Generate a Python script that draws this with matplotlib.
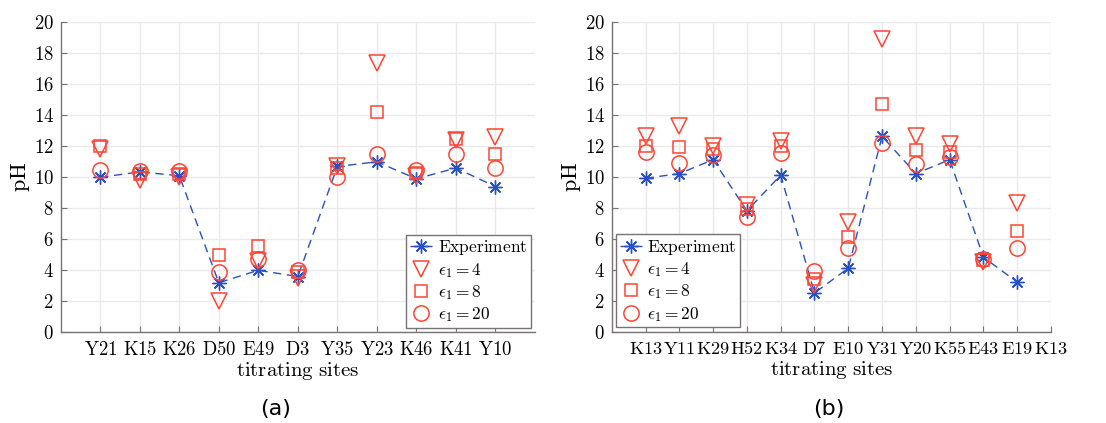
import matplotlib
matplotlib.use('Agg')
import matplotlib.pyplot as plt

plt.rcParams['mathtext.fontset'] = 'cm'
plt.rcParams['font.family'] = 'DejaVu Serif'

# panel (a)
sites_a = ['Y21', 'K15', 'K26', 'D50', 'E49', 'D3', 'Y35', 'Y23', 'K46', 'K41', 'Y10']
exp_a = [10.0, 10.35, 10.1, 3.2, 4.0, 3.6, 10.7, 11.0, 9.9, 10.6, 9.4]
eps4_a = [11.8, 9.8, 10.0, 2.0, 4.6, 3.5, 10.7, 17.4, 10.1, 12.4, 12.6]
eps8_a = [12.0, 10.2, 10.2, 5.0, 5.6, 3.9, 10.6, 14.2, 10.3, 12.5, 11.5]
eps20_a = [10.5, 10.4, 10.4, 3.9, 4.7, 4.0, 10.0, 11.5, 10.5, 11.5, 10.6]

# panel (b)
sites_b = ['K13', 'Y11', 'K29', 'H52', 'K34', 'D7', 'E10', 'Y31', 'Y20', 'K55', 'E43', 'E19', 'K13']
exp_b = [9.9, 10.2, 11.1, 7.8, 10.1, 2.5, 4.1, 12.6, 10.2, 11.1, 4.8, 3.2]
eps4_b = [12.6, 13.3, 12.0, 8.2, 12.3, 3.0, 7.1, 18.9, 12.6, 12.1, 4.5, 8.3]
eps8_b = [12.0, 11.9, 11.8, 7.9, 12.0, 3.4, 6.1, 14.7, 11.7, 11.6, 4.6, 6.5]
eps20_b = [11.6, 10.9, 11.4, 7.4, 11.5, 3.9, 5.4, 12.2, 10.8, 11.3, 4.7, 5.4]

blue = '#2b4fc4'
red = '#ff4433'
grid_c = '#e8eaed'
spine_c = '#7a7272'


def lbl(s):
    return r'$\mathrm{' + s + '}$'


def panel(ax, sites, exp, e4, e8, e20, xmax, loc, xfs):
    x = list(range(1, len(exp) + 1))
    ax.plot(x, exp, ls=(0, (6, 4)), color=blue, lw=1.0,
            marker=(8, 2, 0), ms=10, mew=1.0, label=lbl('Experiment'), zorder=3)
    ax.plot(x, e4, ls='none', marker='v', ms=12, mfc='none', mec=red, mew=1.1,
            label=r'$\epsilon_1 = 4$', zorder=4)
    ax.plot(x, e8, ls='none', marker='s', ms=8, mfc='none', mec=red, mew=1.1,
            label=r'$\epsilon_1 = 8$', zorder=4)
    ax.plot(x, e20, ls='none', marker='o', ms=11, mfc='none', mec=red, mew=1.1,
            label=r'$\epsilon_1 = 20$', zorder=4)
    ax.set_xlim(0, xmax)
    ax.set_ylim(0, 20)
    ax.set_xticks(range(1, len(sites) + 1))
    ax.set_xticklabels([lbl(s) for s in sites], fontsize=xfs)
    ax.set_yticks(range(0, 21, 2))
    ax.set_yticklabels([lbl(str(v)) for v in range(0, 21, 2)], fontsize=13.5)
    ax.grid(True, color=grid_c, lw=1.0)
    ax.set_axisbelow(True)
    for s in ['top', 'right']:
        ax.spines[s].set_visible(False)
    for s in ['left', 'bottom']:
        ax.spines[s].set_color(spine_c)
        ax.spines[s].set_linewidth(1.0)
    ax.tick_params(direction='in', length=4, color=spine_c)
    ax.tick_params(axis='x', pad=6)
    ax.tick_params(axis='y', pad=5)
    ax.set_xlabel(lbl(r'titrating\ sites'), fontsize=15, labelpad=1)
    ax.set_ylabel(lbl('pH'), fontsize=16, labelpad=1)
    leg = ax.legend(loc=loc, fontsize=12.5, fancybox=False, framealpha=1,
                    edgecolor=spine_c, handlelength=1.3, handletextpad=0.3,
                    borderaxespad=0.25, borderpad=0.2, labelspacing=0.2)
    leg.get_frame().set_linewidth(1.0)


fig = plt.figure(figsize=(11.06, 4.23), dpi=100)
ax1 = fig.add_axes([0.0549, 0.2144, 0.4288, 0.7329])
ax2 = fig.add_axes([0.5531, 0.2158, 0.3972, 0.7329])

panel(ax1, sites_a, exp_a, eps4_a, eps8_a, eps20_a, 12, 'lower right', 13.5)
panel(ax2, sites_b, exp_b, eps4_b, eps8_b, eps20_b, 13, 'lower left', 13.2)

fig.text(0.249, 0.018, '(a)', fontsize=16, family='DejaVu Sans', ha='center')
fig.text(0.749, 0.018, '(b)', fontsize=16, family='DejaVu Sans', ha='center')

fig.savefig('out.png', dpi=100)
